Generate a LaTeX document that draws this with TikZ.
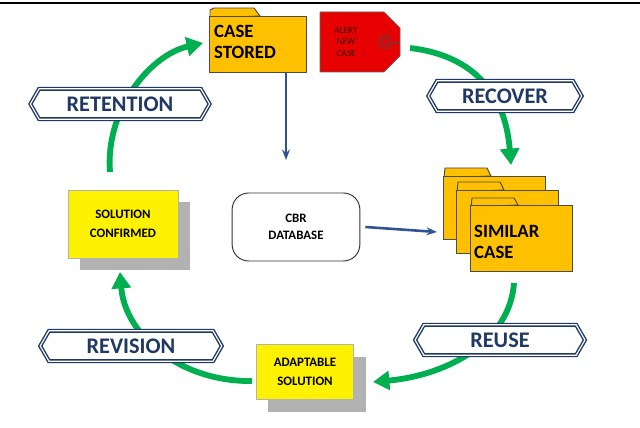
\documentclass[tikz,border=0pt]{standalone}
\usepackage{fontspec}
\setmainfont{Carlito}
\usetikzlibrary{shapes.symbols,arrows.meta,calc}
\definecolor{fold}{RGB}{255,192,0}
\definecolor{navy}{RGB}{31,56,100}
\definecolor{arrowblue}{RGB}{46,84,150}
\definecolor{cyc}{RGB}{0,176,80}
\definecolor{tagred}{RGB}{230,0,0}
\begin{document}
\begin{tikzpicture}[x=0.03cm,y=-0.03cm,font=\bfseries,
  folder/.style={draw=black!70,fill=fold,line width=0.8pt,inner sep=0pt},
  tab/.style={draw=black!70,fill=fold,line width=0.8pt},
  foldtext/.style={font=\fontsize{16}{18}\selectfont\bfseries,align=left,anchor=west,inner sep=0pt},
  phase/.style={shape=signal,signal to=east and west,signal pointer angle=120,draw=navy,line width=1.2pt,
    double=white,double distance=1pt,fill=white,text=navy,font=\fontsize{19}{21}\selectfont\bfseries,inner sep=3pt},
  note/.style={fill=yellow,draw=black!30,text width=61pt,align=center,font=\fontsize{11}{13}\selectfont\bfseries,inner sep=0pt},
  shadow/.style={fill=black!30},
  cycle/.style={cyc,line width=5pt,-{Triangle[length=14pt,width=16pt]}},
  flow/.style={arrowblue,line width=2.2pt,-{Stealth[length=9pt]}}]
\useasboundingbox (0,0) rectangle (640,428);
\draw[line width=1pt] (0,3) -- (640,3);
% cycle
\draw[cycle] (410,48) .. controls (470,55) and (505,90) .. (511,165);
\draw[cycle] (514,283) .. controls (510,340) and (450,375) .. (373,382);
\draw[cycle] (252,381) .. controls (180,382) and (125,335) .. (120,272);
\draw[cycle] (110,172) .. controls (105,110) and (150,55) .. (203,43);
% case stored
\draw[tab] (210,18) -- (210,10) -- (214,8) -- (254,8) -- (260,16) -- cycle;
\node[folder,minimum width=83pt,minimum height=48pt,anchor=north west] (stored) at (209,16) {};
\node[foldtext] (storedt) at (214,42) {CASE\\STORED};
% alert tag
\filldraw[fill=tagred,draw=black!60,line width=0.6pt] (320,12) -- (384,12) -- (400,28) -- (400,56) -- (384,72) -- (320,72) -- cycle;
\node[font=\fontsize{8}{9.5}\selectfont,align=center,text=black!75!red] (alertt) at (346,42) {ALERT\\NEW\\CASE};
\draw[black!70,line width=0.6pt] (385,42) circle (6.5) (385,42) circle (3.5);
\draw[black!70] (391.5,42) -- (400,42);
% database
\node[draw=black!80,line width=0.8pt,rounded corners=14pt,minimum width=109pt,minimum height=58pt,
  align=center,font=\fontsize{11}{14}\selectfont\bfseries] (db) at (296,227) {CBR\\DATABASE};
% similar case
\foreach \dx/\dy in {443/176,456/190} {
  \draw[tab] (\dx+1,\dy+2) -- (\dx+2,\dy-8) -- (\dx+44,\dy-8) -- (\dx+48,\dy) -- cycle;
  \node[folder,minimum width=87pt,minimum height=54pt,anchor=north west] at (\dx,\dy) {};
}
\draw[tab] (471,207) -- (472,198) -- (514,198) -- (518,205) -- cycle;
\node[folder,minimum width=87pt,minimum height=56pt,anchor=north west] (similar) at (470,205) {};
\node[foldtext] (similart) at (474,242) {SIMILAR\\CASE};
% phases
\node[phase,minimum width=131pt,minimum height=26pt] (recover) at (505,96) {RECOVER};
\node[phase,minimum width=153pt,minimum height=26pt] (retention) at (120,104) {RETENTION};
\node[phase,minimum width=145pt,minimum height=26pt] (reuse) at (500,340) {REUSE};
\node[phase,minimum width=155pt,minimum height=26pt] (revision) at (131,346) {REVISION};
% notes
\fill[shadow] (80,202) rectangle (190,270);
\node[note,minimum width=94pt,minimum height=58pt] (confirmed) at (123,224) {SOLUTION\\[3pt]CONFIRMED};
\fill[shadow] (268,357) rectangle (366,412);
\node[note,minimum width=83pt,minimum height=47pt] (adaptable) at (305,372) {ADAPTABLE\\[3pt]SOLUTION};
% flows
\draw[flow] (stored.south -| 286,0) -- (286,160);
\draw[flow] (db.east) ++(5,0) -- (437,232);
\end{tikzpicture}
\end{document}
